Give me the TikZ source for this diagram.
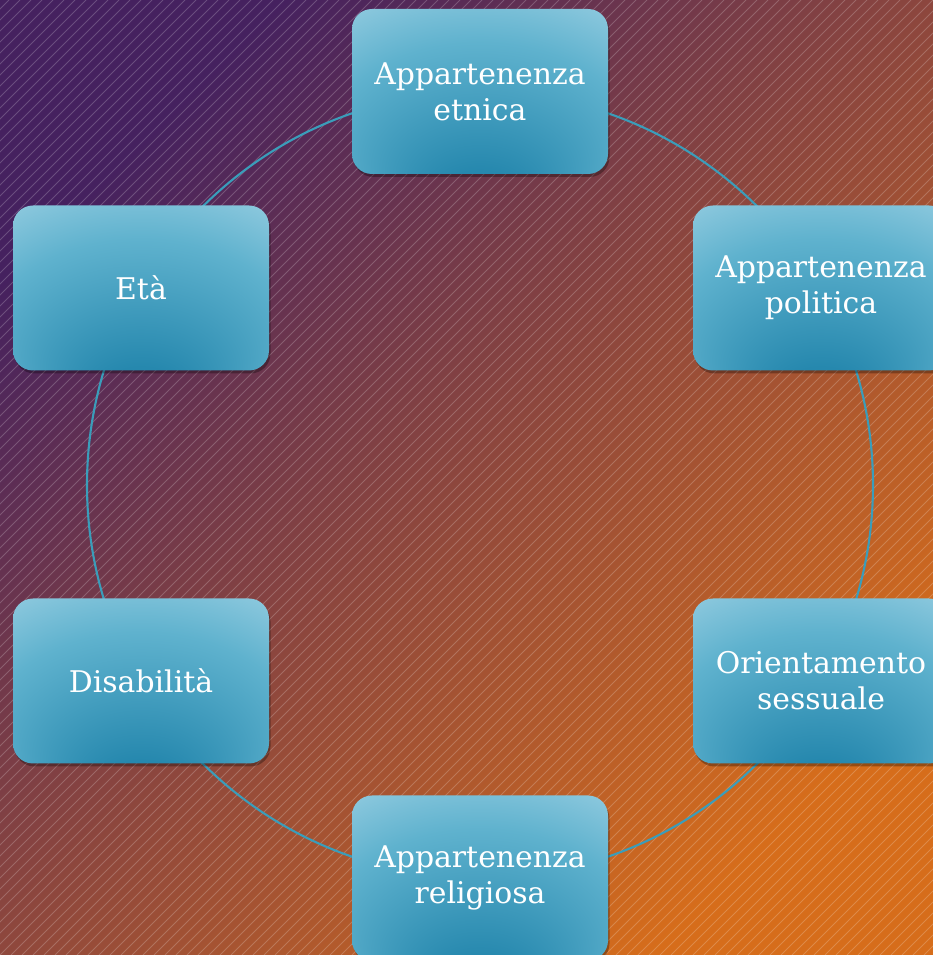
\documentclass[tikz,border=0pt]{standalone}
\usepackage{fontspec}
\setmainfont{DejaVu Serif}
\usetikzlibrary{shadows}

\definecolor{bgpurple}{HTML}{45215F}
\definecolor{bgred}{HTML}{853D40}
\definecolor{bgorange}{HTML}{D66D1B}
\definecolor{ringteal}{HTML}{3A9DBA}
\definecolor{boxdark}{HTML}{2688AE}
\definecolor{boxmid}{HTML}{5FB2CE}
\definecolor{boxpale}{HTML}{9CD0E3}
\definecolor{boxlight}{HTML}{AEDBEA}

\pgfdeclareradialshading{boxglow}{\pgfpoint{0bp}{-38bp}}{%
  color(0bp)=(boxdark); color(8bp)=(boxdark); color(30bp)=(boxmid);
  color(44bp)=(boxpale); color(50bp)=(boxlight)}

\tikzset{
  facet/.style={rounded corners=0.4cm, minimum width=5.12cm, minimum height=3.3cm,
    shade, shading=boxglow, text=white, align=center,
    font=\fontsize{17}{20.4}\selectfont,
    drop shadow={shadow xshift=0.03cm, shadow yshift=-0.06cm, opacity=0.3, fill=black}},
  ring/.style={draw=ringteal, line width=1.2pt},
  hatch/.style={white, opacity=0.2, line width=0.45pt}
}

\begin{document}
\begin{tikzpicture}
  \useasboundingbox (0,0) rectangle (18.66,19.1);
  \clip (0,0) rectangle (18.66,19.1);

  % background
  \shade[top color=bgpurple, middle color=bgred, bottom color=bgorange, shading angle=45]
    (0,0) rectangle (18.66,19.1);
  \foreach \k in {-87,...,85}
    \draw[hatch] (\k*0.22,0) -- ++(19.1,19.1);

  % ring behind the boxes
  \coordinate (hub) at (9.6,9.4);
  \draw[ring] (hub) circle[radius=7.86];

  \node[facet] (etnica)     at (9.6,17.27)  {Appartenenza\\etnica};
  \node[facet] (politica)   at (16.42,13.34) {Appartenenza\\politica};
  \node[facet] (sessuale)   at (16.42,5.48)  {Orientamento\\sessuale};
  \node[facet] (religiosa)  at (9.6,1.54)   {Appartenenza\\religiosa};
  \node[facet] (disabilita) at (2.82,5.48)  {Disabilità};
  \node[facet] (eta)        at (2.82,13.34) {Età};
\end{tikzpicture}
\end{document}
